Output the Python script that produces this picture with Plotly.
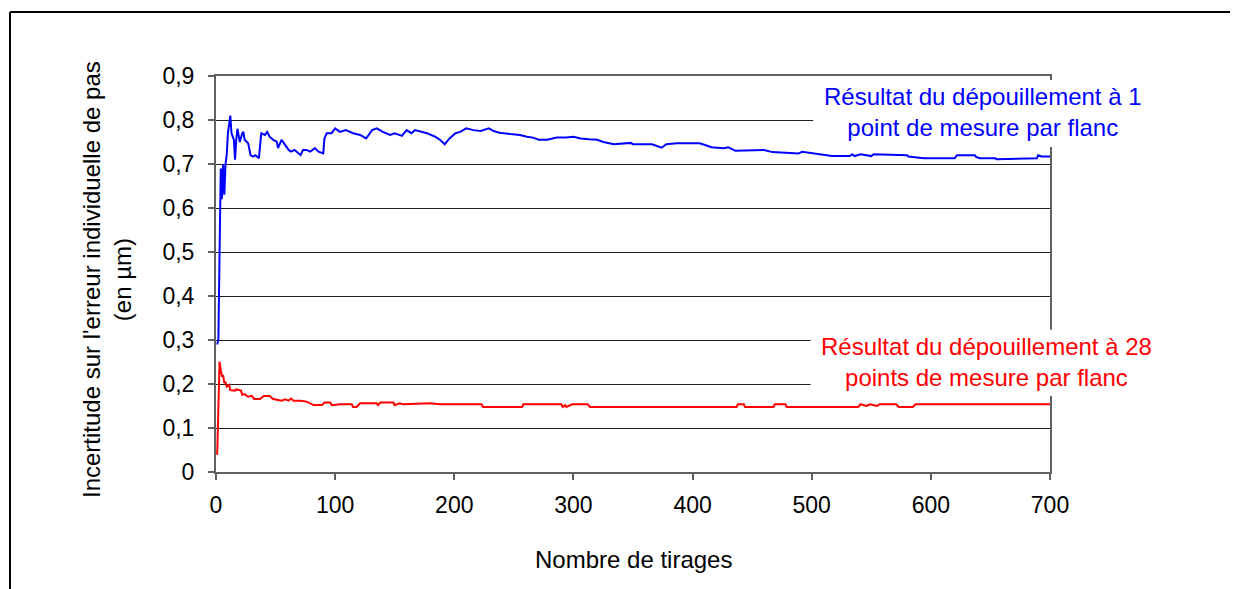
import plotly.graph_objects as go

# Values (x = nombre de tirages, y = incertitude en µm)
x_1pt = [1, 2, 3, 4, 5, 6, 7, 8, 9, 10,
         12, 13, 15, 16, 17, 18, 20, 22, 23, 24,
         27, 29, 31, 33, 36, 37, 38, 41, 43, 45,
         48, 51, 52, 55, 58, 61, 63, 66, 71, 73,
         76, 79, 83, 86, 90, 91, 93, 97, 100, 104,
         109, 115, 121, 126, 131, 135, 140, 146, 150, 156,
         160, 164, 167, 173, 177, 184, 188, 192, 196, 201,
         205, 210, 216, 222, 229, 233, 238, 247, 255, 261,
         266, 271, 278, 286, 294, 300, 306, 313, 320, 325,
         334, 348, 350, 366, 374, 378, 387, 406, 409, 416,
         426, 430, 436, 451, 460, 467, 489, 492, 504, 508,
         517, 532, 534, 536, 541, 550, 552, 580, 581, 594,
         620, 622, 637, 638, 641, 654, 655, 689, 690, 693,
         700]
y_1pt = [0.29, 0.30, 0.50, 0.69, 0.62, 0.70, 0.63, 0.70, 0.72, 0.77,
         0.81, 0.77, 0.755, 0.71, 0.755, 0.78, 0.75, 0.77, 0.773, 0.755,
         0.747, 0.72, 0.717, 0.72, 0.713, 0.739, 0.77, 0.766, 0.773, 0.762,
         0.755, 0.751, 0.736, 0.755, 0.743, 0.732, 0.728, 0.732, 0.72, 0.732,
         0.732, 0.728, 0.736, 0.728, 0.724, 0.758, 0.77, 0.77, 0.781, 0.773,
         0.777, 0.77, 0.766, 0.758, 0.777, 0.781, 0.773, 0.766, 0.77, 0.764,
         0.777, 0.77, 0.777, 0.773, 0.77, 0.762, 0.755, 0.745, 0.758, 0.77,
         0.773, 0.781, 0.777, 0.775, 0.781, 0.775, 0.771, 0.768, 0.766, 0.762,
         0.76, 0.755, 0.755, 0.76, 0.76, 0.762, 0.758, 0.756, 0.755, 0.75,
         0.745, 0.748, 0.745, 0.745, 0.737, 0.745, 0.747, 0.747, 0.744, 0.738,
         0.736, 0.738, 0.73, 0.732, 0.732, 0.727, 0.724, 0.728, 0.724, 0.722,
         0.718, 0.718, 0.722, 0.718, 0.722, 0.718, 0.722, 0.72, 0.717, 0.713,
         0.713, 0.72, 0.72, 0.716, 0.713, 0.713, 0.711, 0.713, 0.72, 0.717,
         0.717]

x_28pt = [1, 2, 3, 4, 5, 6, 7, 8, 9, 11,
          12, 16, 17, 21, 22, 24, 27, 30, 32, 37,
          40, 45, 48, 55, 58, 61, 63, 65, 71, 76,
          82, 89, 91, 96, 97, 104, 114, 115, 118, 121,
          135, 136, 138, 149, 150, 154, 157, 180, 188, 223,
          224, 257, 258, 290, 291, 293, 294, 299, 312, 314,
          437, 438, 443, 444, 468, 469, 478, 479, 539, 541,
          546, 549, 555, 557, 571, 573, 585, 587, 700]
y_28pt = [0.039, 0.126, 0.251, 0.232, 0.217, 0.220, 0.202, 0.205, 0.194, 0.198,
          0.186, 0.185, 0.188, 0.185, 0.175, 0.177, 0.171, 0.173, 0.166, 0.166,
          0.173, 0.173, 0.166, 0.162, 0.165, 0.162, 0.167, 0.162, 0.162, 0.160,
          0.152, 0.152, 0.158, 0.158, 0.152, 0.154, 0.154, 0.148, 0.148, 0.156,
          0.156, 0.152, 0.158, 0.158, 0.152, 0.156, 0.154, 0.156, 0.154, 0.154,
          0.148, 0.148, 0.154, 0.154, 0.148, 0.152, 0.148, 0.154, 0.154, 0.148,
          0.148, 0.154, 0.154, 0.148, 0.148, 0.154, 0.154, 0.148, 0.148, 0.154,
          0.150, 0.154, 0.150, 0.154, 0.154, 0.148, 0.148, 0.154, 0.154]

y_ticks = [0, 0.1, 0.2, 0.3, 0.4, 0.5, 0.6, 0.7, 0.8, 0.9]
y_labels = ["0", "0,1", "0,2", "0,3", "0,4", "0,5", "0,6", "0,7", "0,8", "0,9"]
x_ticks = [0, 100, 200, 300, 400, 500, 600, 700]

label_1pt = "Résultat du dépouillement à 1<br>point de mesure par flanc"
label_28pt = "Résultat du dépouillement à 28<br>points de mesure par flanc"
y_title = "Incertitude sur l'erreur individuelle de pas<br>(en µm)"
x_title = "Nombre de tirages"

FONT = "Liberation Sans, Arial, sans-serif"
FS = 24       # titles and labels
FS_TICK = 23  # tick labels

fig = go.Figure()

fig.add_trace(go.Scatter(x=x_1pt, y=y_1pt, mode='lines',
                         line=dict(color='#0000ff', width=2), showlegend=False))
fig.add_trace(go.Scatter(x=x_28pt, y=y_28pt, mode='lines',
                         line=dict(color='#ff0000', width=2), showlegend=False))

# white boxes behind the labels hide the gridlines, like the Excel text boxes
shapes = [
    dict(type='rect', xref='paper', yref='paper', x0=0.716, x1=1.015, y0=0.821, y1=0.990,
         fillcolor='white', line=dict(width=0), layer='above'),
    dict(type='rect', xref='paper', yref='paper', x0=0.713, x1=1.015, y0=0.192, y1=0.359,
         fillcolor='white', line=dict(width=0), layer='above'),
    # outer chart border: only its top and left edges are in the picture
    dict(type='line', xref='paper', yref='paper', x0=-0.247, x1=1.3, y0=1.1616, y1=1.1616,
         line=dict(color='black', width=2), layer='above'),
    dict(type='line', xref='paper', yref='paper', x0=-0.247, x1=-0.247, y0=-0.4, y1=1.1616,
         line=dict(color='black', width=2), layer='above'),
]

annotations = [
    dict(text=label_1pt, x=644, y=0.819, xref='x', yref='y', showarrow=False,
         font=dict(color='#0000ff', size=FS, family=FONT), align='center'),
    dict(text=label_28pt, x=647, y=0.25, xref='x', yref='y', showarrow=False,
         font=dict(color='#ff0000', size=FS, family=FONT), align='center'),
    dict(text=y_title, x=-0.168, y=0.487, xref='paper', yref='paper', showarrow=False,
         textangle=-90, font=dict(color='black', size=FS, family=FONT), align='center'),
    dict(text=x_title, x=0.5, y=-0.26, xref='paper', yref='paper', showarrow=False,
         font=dict(color='black', size=FS, family=FONT)),
]

# the page adds an 8px body margin, so the figure is a bit smaller than the window
fig.update_layout(
    width=1230, height=581, autosize=False,
    margin=dict(l=208, r=188, t=68, b=117),
    paper_bgcolor='white', plot_bgcolor='white',
    font=dict(family=FONT, size=FS_TICK, color='black'),
    shapes=shapes,
    annotations=annotations,
)

fig.update_xaxes(range=[0, 700], tickvals=x_ticks, showgrid=False, zeroline=False,
                 showline=True, linecolor='#606060', linewidth=2, mirror=True,
                 ticks='outside', ticklen=6, tickcolor='#606060', tickwidth=2,
                 ticklabelstandoff=5)
fig.update_yaxes(range=[0, 0.9], tickvals=y_ticks, ticktext=y_labels,
                 showgrid=True, gridcolor='#202020', gridwidth=1, zeroline=False,
                 showline=True, linecolor='#606060', linewidth=2, mirror=True,
                 ticks='outside', ticklen=6, tickcolor='#606060', tickwidth=2,
                 ticklabelstandoff=9)

fig.write_html("out.html")
